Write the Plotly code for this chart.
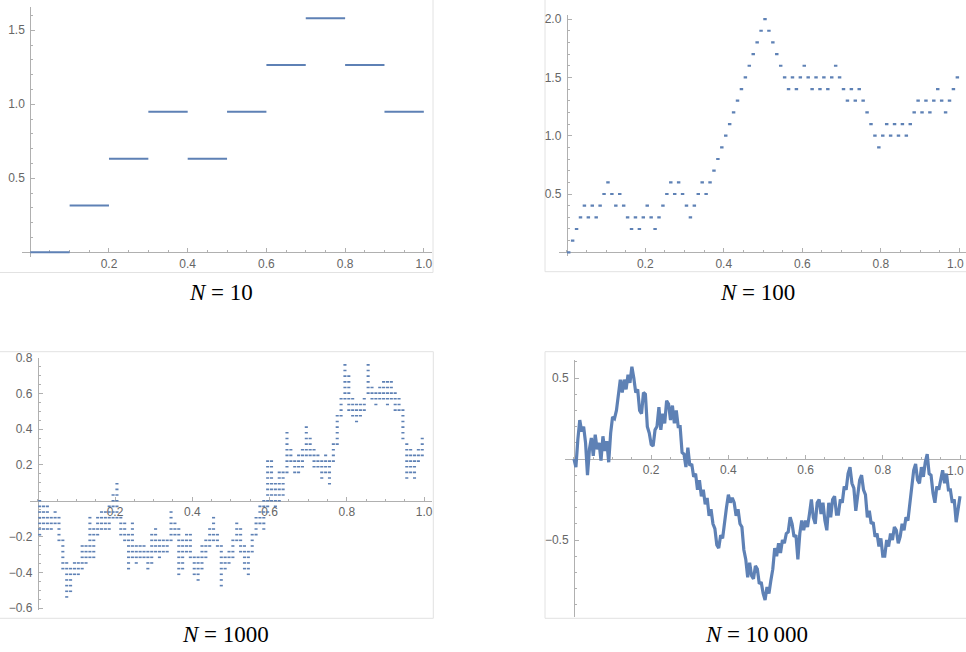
import plotly.graph_objects as go

W, H = 966, 652
BLUE = "#5E81B5"
AXC = "#b0b0b0"
LBC = "#666666"

# ---------------- data ----------------
# N = 10 : walk in units of 1/sqrt(10)
walk10 = [0, 1, 2, 3, 2, 3, 4, 5, 4, 3]
# N = 100 : walk in units of 1/sqrt(100)
walk100 = [0, 1, 2, 3, 4, 3, 4, 3, 4, 5,
           6, 5, 4, 5, 4, 3, 2, 3, 2, 3,
           4, 3, 2, 3, 4, 5, 6, 5, 6, 5,
           4, 3, 4, 5, 6, 5, 6, 7, 8, 9,
           10, 11, 12, 13, 14, 15, 16, 17, 18, 19,
           20, 19, 18, 17, 16, 15, 14, 15, 14, 15,
           16, 15, 14, 15, 14, 15, 14, 15, 16, 15,
           14, 13, 14, 13, 14, 13, 12, 11, 10, 9,
           10, 11, 10, 11, 10, 11, 10, 11, 12, 13,
           12, 13, 12, 13, 14, 13, 12, 13, 14, 15]
# N = 1000 : highest / lowest level (units of 1/sqrt(1000)) visited in each 0.01-wide slice
hi1000 = [0, -1, -1, -3, -2, -3, -7, -11, -12, -11,
          -11, -8, -8, -3, -5, -3, -2, -2, -1, 1,
          3, -3, -4, -6, -4, -8, -8, -8, -9, -6,
          -5, -7, -7, -7, -2, -4, -5, -7, -6, -6,
          -10, -10, -8, -7, -5, -3, -6, -8, -10, -9,
          -7, -4, -5, -8, -9, -6, -3, -1, 0, 7,
          7, 3, 5, 5, 12, 9, 7, 8, 9, 13,
          11, 9, 8, 7, 8, 7, 10, 15, 18, 24,
          22, 18, 17, 17, 18, 24, 20, 19, 20, 21,
          21, 21, 19, 18, 16, 10, 9, 8, 9, 11]
lo1000 = [-6, -5, -5, -5, -4, -7, -12, -17, -16, -13,
          -13, -12, -11, -10, -10, -6, -5, -5, -5, -3,
          -3, -6, -7, -12, -10, -11, -10, -10, -12, -11,
          -9, -10, -9, -9, -7, -6, -13, -12, -9, -10,
          -13, -14, -12, -10, -8, -7, -8, -15, -12, -11,
          -10, -7, -9, -12, -13, -9, -6, -4, -5, -2,
          0, -1, 0, 1, 5, 7, 5, 5, 6, 8,
          8, 6, 6, 4, 5, 3, 7, 10, 15, 18,
          16, 15, 14, 15, 16, 19, 18, 17, 18, 18,
          17, 18, 16, 16, 11, 4, 5, 4, 7, 8]
# N = 10000 : path values every 0.005 (first value at x = 0)
path10000 = [0.0,
    -0.05, 0.12, 0.24, 0.17, 0.20, 0.10, -0.10, 0.06, 0.13, 0.02,
    0.15, 0.06, 0.10, -0.01, 0.14, 0.05, 0.11, -0.02, 0.16, 0.26,
    0.25, 0.30, 0.38, 0.49, 0.41, 0.49, 0.43, 0.52, 0.47, 0.57,
    0.50, 0.41, 0.43, 0.30, 0.28, 0.41, 0.40, 0.20, 0.16, 0.09,
    0.08, 0.18, 0.20, 0.32, 0.18, 0.28, 0.22, 0.36, 0.34, 0.24,
    0.33, 0.22, 0.30, 0.20, 0.20, 0.04, 0.03, -0.05, 0.07, -0.04,
    -0.03, -0.11, -0.09, -0.19, -0.13, -0.23, -0.19, -0.28, -0.24, -0.35,
    -0.31, -0.40, -0.43, -0.53, -0.55, -0.47, -0.49, -0.38, -0.30, -0.22,
    -0.27, -0.24, -0.27, -0.35, -0.31, -0.40, -0.42, -0.56, -0.62, -0.73,
    -0.64, -0.72, -0.74, -0.66, -0.68, -0.77, -0.76, -0.83, -0.87, -0.79,
    -0.83, -0.75, -0.68, -0.55, -0.60, -0.52, -0.58, -0.50, -0.52, -0.46,
    -0.45, -0.36, -0.40, -0.48, -0.47, -0.62, -0.46, -0.38, -0.44, -0.38,
    -0.42, -0.34, -0.25, -0.36, -0.40, -0.27, -0.25, -0.34, -0.27, -0.38,
    -0.44, -0.27, -0.36, -0.25, -0.23, -0.34, -0.34, -0.25, -0.27, -0.17,
    -0.19, -0.09, -0.05, -0.15, -0.18, -0.32, -0.23, -0.13, -0.10, -0.19,
    -0.22, -0.36, -0.32, -0.40, -0.39, -0.48, -0.46, -0.54, -0.49, -0.60,
    -0.60, -0.50, -0.54, -0.46, -0.50, -0.42, -0.44, -0.52, -0.48, -0.40,
    -0.44, -0.36, -0.38, -0.27, -0.19, -0.07, -0.03, -0.13, -0.15, -0.05,
    -0.11, -0.02, 0.03, -0.09, -0.10, -0.21, -0.27, -0.17, -0.19, -0.12,
    -0.07, -0.15, -0.09, -0.19, -0.19, -0.27, -0.25, -0.39, -0.32, -0.23]

# ---------------- figure ----------------
fig = go.Figure()

panels = [
    dict(n=1, box=(22.4, 431.7, 6.6, 256.7), xr=(-0.02, 1.02), yr=(-0.03, 1.66),
         yt=[0.5, 1.0, 1.5], ytt=["0.5", "1.0", "1.5"], ymin=0.1, edge=False),
    dict(n=2, box=(558.9, 966.0, 15.0, 255.8), xr=(-0.02, 1.017), yr=(-0.03, 2.035),
         yt=[0.5, 1.0, 1.5, 2.0], ytt=["0.5", "1.0", "1.5", "2.0"], ymin=0.1, edge=True),
    dict(n=3, box=(30.0, 431.9, 357.5, 609.9), xr=(-0.02, 1.02), yr=(-0.61, 0.80),
         yt=[-0.6, -0.4, -0.2, 0.2, 0.4, 0.6, 0.8],
         ytt=["\u22120.6", "\u22120.4", "\u22120.2", "0.2", "0.4", "0.6", "0.8"],
         ymin=0.05, edge=False),
    dict(n=4, box=(565.1, 966.0, 360.2, 616.95), xr=(-0.023, 1.0155), yr=(-0.975, 0.61),
         yt=[-0.5, 0.5], ytt=["\u22120.5", "0.5"], ymin=0.1, edge=True),
]

xt = [0.2, 0.4, 0.6, 0.8, 1.0]
xtt = ["0.2", "0.4", "0.6", "0.8", "1.0"]
tfont = dict(family="Liberation Sans, Arial, sans-serif", size=12, color=LBC)

for p in panels:
    l, r, t, b = p["box"]
    dx = [l / W, min(r / W, 1.0)]
    dy = [1 - b / H, 1 - t / H]
    xr, yr = p["xr"], p["yr"]
    xpos = dy[0] + (0 - yr[0]) / (yr[1] - yr[0]) * (dy[1] - dy[0])
    ypos = dx[0] + (0 - xr[0]) / (xr[1] - xr[0]) * (dx[1] - dx[0])
    sfx = "" if p["n"] == 1 else str(p["n"])
    # the last x label touches the page edge in the right-hand panels: it is
    # written as a right-anchored text so that it stays fully visible
    ticktext = xtt[:-1] + [""] if p["edge"] else xtt
    fig.layout["xaxis" + sfx] = dict(
        domain=dx, range=list(xr), anchor="free", position=xpos, automargin=False,
        showline=True, linecolor=AXC, linewidth=1, zeroline=False, showgrid=False,
        ticks="inside", ticklen=4, tickcolor=AXC, tickwidth=1, layer="below traces",
        tickmode="array", tickvals=xt, ticktext=ticktext, tickfont=tfont,
        minor=dict(ticks="inside", ticklen=2, tickcolor=AXC, tickmode="linear",
                   tick0=0, dtick=0.05, showgrid=False),
        fixedrange=True,
    )
    fig.layout["yaxis" + sfx] = dict(
        domain=dy, range=list(yr), anchor="free", position=ypos, automargin=False,
        showline=True, linecolor=AXC, linewidth=1, zeroline=False, showgrid=False,
        ticks="inside", ticklen=4, tickcolor=AXC, tickwidth=1, layer="below traces",
        tickmode="array", tickvals=p["yt"], ticktext=p["ytt"], tickfont=tfont,
        ticklabelstandoff=3,
        minor=dict(ticks="inside", ticklen=2, tickcolor=AXC, tickmode="linear",
                   tick0=0, dtick=p["ymin"], showgrid=False),
        fixedrange=True,
    )
    if p["edge"]:
        fig.add_annotation(text=xtt[-1], xref="paper", yref="y" + sfx,
                           x=1.0, y=0, xanchor="right", yanchor="top", yshift=-3,
                           showarrow=False, font=tfont)

# N = 10 step segments
s10 = 10 ** -0.5
xs, ys = [], []
for k, v in enumerate(walk10):
    xs += [k / 10, (k + 1) / 10, None]
    ys += [v * s10, v * s10, None]
fig.add_trace(go.Scatter(x=xs, y=ys, mode="lines", line=dict(color=BLUE, width=2),
                         xaxis="x", yaxis="y", hoverinfo="skip", cliponaxis=False))

# N = 100 step segments
s100 = 0.1
xs, ys = [], []
for k, v in enumerate(walk100):
    xs += [k / 100 + 0.0006, (k + 1) / 100 - 0.0006, None]
    ys += [v * s100, v * s100, None]
fig.add_trace(go.Scatter(x=xs, y=ys, mode="lines", line=dict(color=BLUE, width=2.2),
                         xaxis="x2", yaxis="y2", hoverinfo="skip", cliponaxis=False))

# N = 1000 : every level visited in each slice
s1000 = 1000 ** -0.5
xs, ys = [], []
for i, (h, lo) in enumerate(zip(hi1000, lo1000)):
    for lev in range(lo, h + 1):
        xs.append((i + 0.5) / 100)
        ys.append(lev * s1000)
fig.add_trace(go.Scatter(x=xs, y=ys, mode="markers",
                         marker=dict(symbol="line-ew", size=2.2,
                                     line=dict(color=BLUE, width=1.6)),
                         xaxis="x3", yaxis="y3", hoverinfo="skip"))

# N = 10000 : path
xs = [j * 0.005 for j in range(len(path10000))]
fig.add_trace(go.Scatter(x=xs, y=path10000, mode="lines",
                         line=dict(color=BLUE, width=3.2),
                         xaxis="x4", yaxis="y4", hoverinfo="skip"))

# panel frames (screenshot borders)
FR = "#e2e2e2"
frames = [(-5, 433, -5, 272.5), (545, 975, -5, 271.7),
          (-5, 433.3, 351.7, 618.3), (545, 975, 351.7, 618.3)]
for (x0, x1, y0, y1) in frames:
    fig.add_shape(type="rect", xref="paper", yref="paper",
                  x0=x0 / W, x1=x1 / W, y0=1 - y1 / H, y1=1 - y0 / H,
                  line=dict(color=FR, width=1), layer="below")

# captions
caps = [("<i>N</i> = 10", 221, 292), ("<i>N</i> = 100", 757, 292),
        ("<i>N</i> = 1000", 225, 634), ("<i>N</i> = 10\u2009000", 756, 634)]
for txt, cx, cy in caps:
    fig.add_annotation(text=txt, xref="paper", yref="paper", x=cx / W, y=1 - cy / H,
                       xanchor="center", yanchor="middle", showarrow=False,
                       font=dict(family="Liberation Serif, Times New Roman, serif",
                                 size=23, color="black"))

fig.update_layout(width=W, height=H, margin=dict(l=0, r=0, t=0, b=0),
                  paper_bgcolor="white", plot_bgcolor="white", showlegend=False)

fig.write_html("out.html", config={"displayModeBar": False},
               post_script="document.body.style.margin='0';document.body.style.overflow='hidden';")
